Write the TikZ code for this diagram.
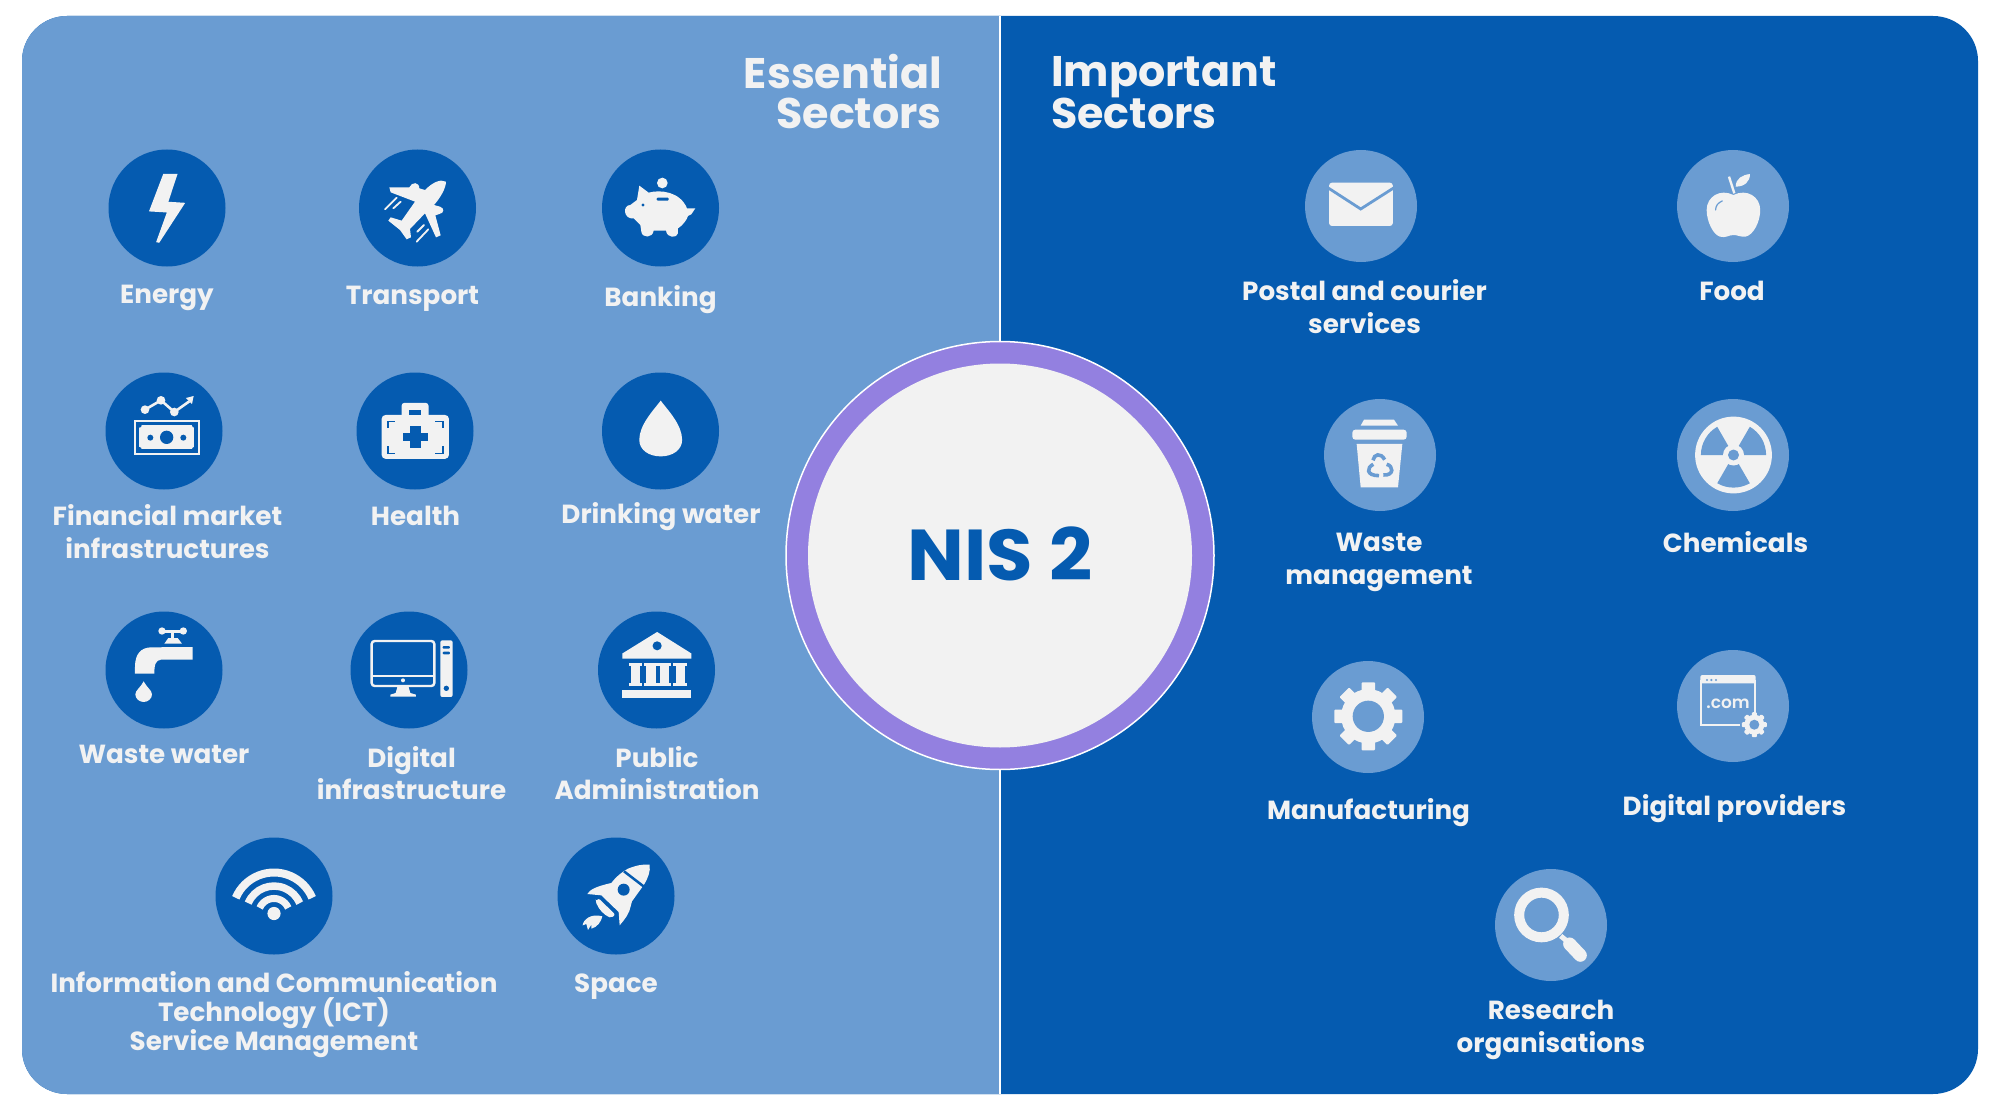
\documentclass[tikz,border=0pt]{standalone}
\usepackage{fontspec}
\setmainfont{Poppins}[UprightFont=* SemiBold,BoldFont=* Bold]
\definecolor{lightb}{HTML}{6A9CD2}
\definecolor{darkb}{HTML}{055BB0}
\definecolor{icw}{HTML}{F2F2F2}
\definecolor{ringc}{HTML}{9380E0}
\tikzset{
  z1/.style={x=0.5102pt,y=-0.3571pt},
  z2/.style={shift={(0pt,-560pt)},x=0.5102pt,y=-0.346pt},
  z3/.style={shift={(1200pt,-100pt)},x=0.4464pt,y=-0.3333pt},
  z4/.style={shift={(1200pt,-600pt)},x=0.4464pt,y=-0.3333pt},
  crop/.style 2 args={shift={(#1pt,-#2pt)},x=0.3333pt,y=-0.3333pt},
  ico/.style={fill=icw},
  discL/.style={circle,fill=darkb,minimum size=117pt,inner sep=0pt},
  discR/.style={circle,fill=lightb,minimum size=112pt,inner sep=0pt},
  lbl/.style={text=icw,font=\fontsize{26.2}{32.5}\selectfont\bfseries,align=center,anchor=base,inner sep=0pt},
  lblt/.style={text=icw,font=\fontsize{26.2}{29}\selectfont\bfseries,align=center,anchor=base,inner sep=0pt},
  ttl/.style={text=icw,font=\fontsize{42.8}{40}\selectfont\bfseries,anchor=base,inner sep=0pt},
}
\newcommand{\gearshp}[5]{%
  \begin{scope}[shift={(#1pt,-#2pt)},x=#3pt,y=-#3pt]
    \fill[ico] (0,0) circle (0.8);
    \foreach \a in {0,45,...,315}{\fill[ico,rotate=\a,rounded corners=1pt] (-0.2,-1) rectangle (0.2,0);}
    \fill[#5] (0,0) circle (#4);
  \end{scope}}
\begin{document}
\begin{tikzpicture}[x=1pt,y=-1pt]
\useasboundingbox (0,0) rectangle (2000,1102);
\fill[white] (0,0) rectangle (2000,1102);
% panels
\fill[darkb,rounded corners=45pt] (22,16) rectangle (1978,1094);
\begin{scope}
  \clip (0,0) rectangle (1000,1102);
  \fill[lightb,rounded corners=45pt] (22,16) rectangle (1978,1094);
\end{scope}
\coordinate (topc) at (1000,16);
\coordinate (botc) at (1000,1094);
\draw[white,line width=1.5pt] (topc) -- (botc);
% centre
\node[circle,fill=ringc,draw=white,line width=1.5pt,minimum size=428pt,inner sep=0pt] (ring) at (1000,555.5) {};
\node[circle,fill=icw,minimum size=384pt,inner sep=0pt] (hub) at (1000,555.5) {};
\node[text=darkb,font=\fontsize{72}{72}\selectfont\bfseries,anchor=base,inner sep=0pt,transform shape,xscale=1.05] (nis) at (1000,580) {NIS 2};
% titles
\node[ttl,align=right,anchor=base east] (essT) at (942,129) {Essential\\Sectors};
\node[ttl,align=left,anchor=base west] (impT) at (1051,129) {Important\\Sectors};
% discs
\node[discL] (energy) at (167,208) {};
\node[discL] (transport) at (417.5,208) {};
\node[discL] (banking) at (660.5,208) {};
\node[discL] (finance) at (164,431) {};
\node[discL] (health) at (415,431) {};
\node[discL] (drink) at (660.5,431) {};
\node[discL] (wastew) at (164,670) {};
\node[discL] (digi) at (409,670) {};
\node[discL] (publ) at (656.5,670) {};
\node[discL] (ict) at (274,896) {};
\node[discL] (space) at (616,896) {};
\node[discR] (postal) at (1361,206) {};
\node[discR] (food) at (1733,206) {};
\node[discR] (wastem) at (1380,455) {};
\node[discR] (chem) at (1733,455) {};
\node[discR] (manu) at (1368,717) {};
\node[discR] (dprov) at (1733,706) {};
\node[discR] (research) at (1551,925) {};
% labels
\node[lbl] (energyL) at (167,303.5) {Energy};
\node[lbl] (transportL) at (412.5,304) {Transport};
\node[lbl] (bankingL) at (660.5,306) {Banking};
\node[lbl] (financeL) at (167.5,558) {Financial market\\infrastructures};
\node[lbl] (healthL) at (415.5,525) {Health};
\node[lbl] (drinkL) at (661,523.5) {Drinking water};
\node[lbl] (wastewL) at (164,763.5) {Waste water};
\node[lbl] (digiL) at (411.5,799.5) {Digital\\infrastructure};
\node[lbl] (publL) at (657,799.5) {Public\\Administration};
\node[lblt] (ictL) at (274,1050) {Information and Communication\\Technology (ICT)\\Service Management};
\node[lbl] (spaceL) at (616,992.5) {Space};
\node[lbl] (postalL) at (1364.5,333) {Postal and courier\\services};
\node[lbl] (foodL) at (1732,300) {Food};
\node[lbl] (wastemL) at (1379,584) {Waste\\management};
\node[lbl] (chemL) at (1735.5,552) {Chemicals};
\node[lbl] (manuL) at (1368.5,819) {Manufacturing};
\node[lbl] (dprovL) at (1734.5,815) {Digital providers};
\node[lbl] (researchL) at (1551,1052) {Research\\organisations};
% ---- energy
\begin{scope}[z1]
\fill[ico,line join=round] (320,487) -- (348,487) -- (330,565) -- (363,568) -- (312,680) -- (306,678) -- (327,595) -- (292,592) -- cycle;
\end{scope}
% ---- plane
\begin{scope}[crop={360}{150}]
\fill[ico] (258,95) .. controls (258,115) and (240,145) .. (222,165) -- (240,170) .. controls (255,175) and (252,190) .. (238,192) -- (226,196) -- (242,256) -- (228,262) -- (195,190) -- (150,237) -- (153,262) -- (140,268) -- (120,240) -- (85,212) -- (92,202) -- (125,212) -- (165,155) -- (92,127) -- (88,112) -- (148,112) .. controls (155,95) and (178,95) .. (178,115) -- (195,120) .. controls (215,100) and (240,85) .. (258,95) -- cycle;
\draw[icw,line width=1.8pt,line cap=round] (75,178) -- (110,143) (100,175) -- (122,155) (172,245) -- (192,225) (170,275) -- (205,238);
\end{scope}
% ---- pig
\begin{scope}[crop={602}{150}]
\fill[ico] (181,99) circle (16);
\fill[ico] (112,107) -- (140,128) .. controls (175,118) and (235,125) .. (255,175) -- (280,175) -- (268,193) -- (258,198) .. controls (255,210) and (240,228) .. (228,235) -- (228,250) .. controls (225,265) and (195,265) .. (192,242) -- (155,242) .. controls (152,265) and (120,265) .. (118,245) -- (115,225) -- (95,205) .. controls (65,210) and (60,165) .. (85,165) -- (105,150) -- cycle;
\fill[darkb] (123,165) circle (5);
\fill[darkb,rounded corners=1pt] (164,143) rectangle (200,152);
\end{scope}
% ---- money
\begin{scope}[crop={106}{372}]
\draw[icw,line width=2pt] (87,147) rectangle (278,245);
\fill[ico] (100,160) rectangle (265,232);
\foreach \p in {(100,160),(265,160),(100,232),(265,232)}{\fill[darkb] \p circle (7);}
\fill[darkb] (182,196) circle (20);
\fill[darkb] (133,197) circle (9);
\fill[darkb] (232,197) circle (9);
\draw[icw,line width=2.6pt] (117,113) -- (165,85) -- (205,120) -- (250,88);
\foreach \p in {(117,113),(165,85),(205,120)}{\fill[ico] \p circle (13);}
\fill[ico] (240,78) -- (263,72) -- (258,96) -- cycle;
\end{scope}
% ---- health
\begin{scope}[z1]
\fill[ico,rounded corners=4pt] (748,1162) rectangle (880,1285);
\fill[ico,rounded corners=3pt] (787,1128) rectangle (840,1170);
\fill[darkb] (802,1147) rectangle (826,1162);
\fill[darkb] (790,1212) rectangle (838,1236);
\fill[darkb] (803,1192) rectangle (826,1255);
\draw[darkb,line width=1.5pt] (760,1198) -- (760,1180) -- (775,1180) (868,1198) -- (868,1180) -- (853,1180) (760,1250) -- (760,1270) -- (775,1270) (868,1250) -- (868,1270) -- (853,1270);
\end{scope}
% ---- drink drop
\begin{scope}[z1]
\fill[ico] (1295,1122) .. controls (1280,1150) and (1253,1190) .. (1253,1232) .. controls (1253,1260) and (1272,1278) .. (1295,1278) .. controls (1318,1278) and (1337,1260) .. (1337,1232) .. controls (1337,1190) and (1310,1150) .. (1295,1122) -- cycle;
\end{scope}
% ---- tap
\begin{scope}[crop={106}{612}]
\draw[icw,line width=2.5pt] (170,58) -- (232,58) (200,58) -- (200,85);
\fill[ico] (168,57) circle (11);
\fill[ico] (232,57) circle (11);
\fill[ico] (175,95) -- (187,78) -- (215,78) -- (228,95) -- cycle;
\fill[ico] (260,105) -- (260,143) -- (165,143) .. controls (150,145) and (145,155) .. (145,185) -- (87,185) -- (87,165) .. controls (87,125) and (105,107) .. (135,106) -- cycle;
\fill[ico] (113,208) .. controls (105,225) and (88,235) .. (88,247) .. controls (88,260) and (100,270) .. (113,270) .. controls (126,270) and (138,260) .. (138,247) .. controls (138,235) and (121,225) .. (113,208) -- cycle;
\end{scope}
% ---- monitor
\begin{scope}[crop={351}{612}]
\draw[icw,line width=2.4pt,rounded corners=3pt] (62,87) rectangle (250,222);
\draw[icw,line width=2.4pt] (62,192) -- (250,192);
\fill[ico] (156,205) circle (6);
\fill[ico] (140,222) -- (172,222) -- (178,243) -- (195,248) -- (195,254) -- (118,254) -- (118,248) -- (134,243) -- cycle;
\fill[ico,rounded corners=2pt] (268,85) rectangle (305,255);
\fill[darkb,rounded corners=1pt] (275,102) rectangle (297,110);
\fill[darkb,rounded corners=1pt] (275,119) rectangle (297,127);
\fill[darkb] (286,229) circle (8);
\end{scope}
% ---- bank
\begin{scope}[z2]
\fill[ico] (1288,208) -- (1355,270) -- (1355,285) -- (1220,285) -- (1220,270) -- cycle;
\fill[darkb] (1288,248) circle [x radius=9,y radius=13];
\foreach \c in {1245,1276,1303,1333}{
  \fill[ico] (\c-9,305) rectangle (\c+9,355);
  \fill[ico] (\c-13,297) rectangle (\c+13,305);
  \fill[ico] (\c-13,355) rectangle (\c+13,363);
}
\fill[ico] (1220,375) rectangle (1355,400);
\end{scope}
% ---- wifi
\fill[ico] (274,913.5) circle [x radius=6.6,y radius=6.6];
\draw[icw,line width=8pt] (235.8,897.8) arc[start angle=157,end angle=23,radius=41.5pt];
\draw[icw,line width=7.5pt] (248.2,903.1) arc[start angle=157,end angle=23,radius=28pt];
\draw[icw,line width=7pt] (259.7,907.9) arc[start angle=157,end angle=23,radius=15.5pt];
% ---- rocket
\begin{scope}[crop={558}{838}]
\fill[ico] (275,80) .. controls (278,100) and (270,120) .. (258,140) -- (222,190) -- (218,205) .. controls (215,225) and (200,245) .. (185,262) -- (182,222) -- (130,172) -- (88,168) .. controls (95,155) and (115,145) .. (160,135) .. controls (175,115) and (195,100) .. (210,92) .. controls (235,82) and (255,78) .. (275,80) -- cycle;
\draw[darkb,line width=2.5pt] (198,100) -- (258,146);
\fill[darkb] (197,155) circle (18);
\fill[ico,rounded corners=2pt] (113,190) -- (122,181) -- (172,230) -- (160,240) .. controls (140,232) and (122,215) .. (113,190) -- cycle;
\fill[ico] (74,262) .. controls (75,245) and (100,225) .. (133,235) .. controls (130,250) and (118,268) .. (100,272) -- (100,260) -- (90,276) -- (85,258) -- cycle;
\end{scope}
% ---- envelope
\begin{scope}[z3]
\fill[ico,rounded corners=3pt] (289,248) rectangle (432,378);
\draw[lightb,line width=2.8pt] (285,262) -- (360,327) -- (436,262);
\end{scope}
% ---- apple
\begin{scope}[z3]
\fill[ico] (1195,285) .. controls (1225,265) and (1255,290) .. (1255,330) .. controls (1255,365) and (1240,405) .. (1222,410) .. controls (1212,412) and (1205,405) .. (1195,405) .. controls (1185,405) and (1178,415) .. (1165,410) .. controls (1150,405) and (1135,365) .. (1135,330) .. controls (1135,290) and (1165,265) .. (1195,285) -- cycle;
\draw[icw,line width=2.4pt] (1197,280) -- (1185,230);
\fill[ico] (1200,260) .. controls (1200,235) and (1215,225) .. (1232,222) .. controls (1232,245) and (1220,260) .. (1200,260) -- cycle;
\draw[lightb,line width=1.2pt,line cap=round] (1155,330) .. controls (1155,318) and (1160,308) .. (1170,303);
\end{scope}
% ---- trash
\begin{scope}[crop={1324}{399}]
\fill[ico] (120,62) -- (210,62) -- (222,80) -- (110,80) -- cycle;
\fill[ico,rounded corners=3pt] (85,92) rectangle (248,122);
\fill[ico] (98,135) -- (235,135) -- (222,265) -- (110,265) -- cycle;
\draw[lightb,line width=3.6pt] (147,184) .. controls (150,165) and (170,160) .. (182,182);
\draw[lightb,line width=3.6pt] (148,196) .. controls (128,205) and (125,230) .. (165,230);
\draw[lightb,line width=3.6pt] (188,196) .. controls (208,200) and (212,230) .. (178,228);
\end{scope}
% ---- chem
\fill[ico] (1733.5,455) circle (38.4);
\foreach \s/\e in {180/120,60/0,300/240}{
  \fill[lightb] (1733.5,455) -- ++(\s:32.6pt) arc[start angle=\s,end angle=\e,radius=32.6pt] -- cycle;
}
\fill[ico] (1733.5,455) circle (10.5);
\fill[lightb] (1733.5,455) circle (5.5);
% ---- gear
\gearshp{1368.3}{716.3}{34}{0.46}{lightb}
% ---- .com
\begin{scope}[crop={1677}{650}]
\fill[ico,rounded corners=2pt] (70,75) rectangle (236,100);
\draw[icw,line width=2.2pt] (73,90) -- (73,224) -- (190,224);
\draw[icw,line width=2.2pt] (233,90) -- (233,186);
\foreach \c in {90,103,117}{\fill[lightb] (\c,90) circle (3.5);}
\node[text=icw,font=\fontsize{17}{17}\selectfont,anchor=base,inner sep=0pt] (comtxt) at (153,176) {.com};
\end{scope}
\gearshp{1754.3}{724.7}{12.5}{0.4}{lightb}
% ---- magnifier
\begin{scope}[z4]
\draw[icw,line width=10pt] (765,945) circle [x radius=50,y radius=67];
\draw[icw,line width=5pt] (808,1008) -- (828,1030);
\draw[icw,line width=13pt,line cap=round] (828,1032) -- (852,1066);
\end{scope}
\end{tikzpicture}
\end{document}
